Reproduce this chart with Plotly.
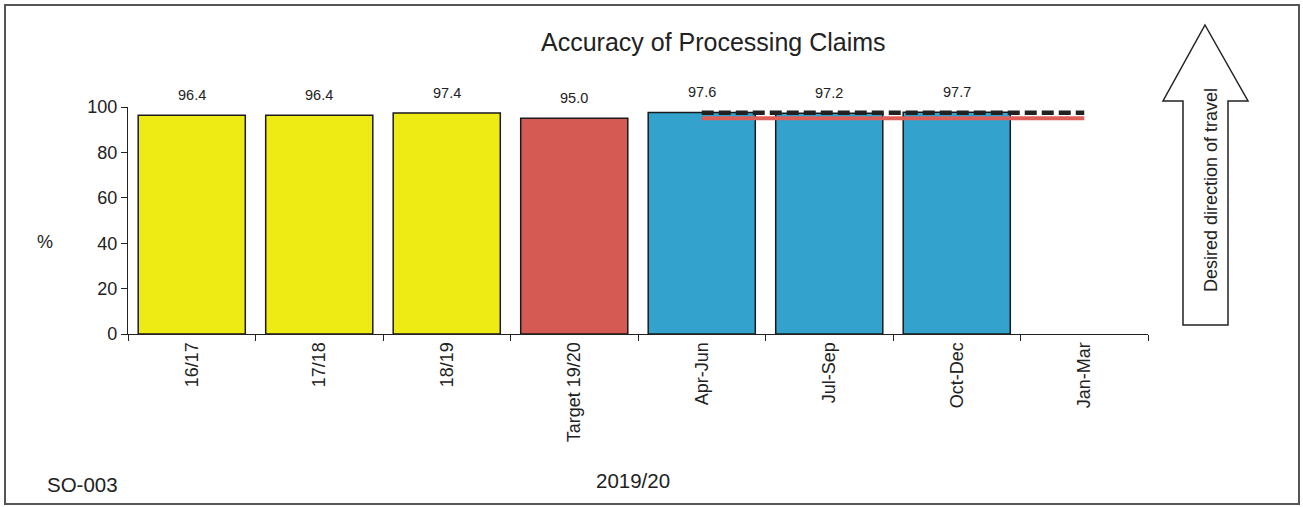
import plotly.graph_objects as go

categories = ["16/17", "17/18", "18/19", "Target 19/20", "Apr-Jun", "Jul-Sep", "Oct-Dec", "Jan-Mar"]
values = [96.4, 96.4, 97.4, 95.0, 97.6, 97.2, 97.7, None]
labels = ["96.4", "96.4", "97.4", "95.0", "97.6", "97.2", "97.7", ""]
colors = ["#EEEA14", "#EEEA14", "#EEEA14", "#D65A54", "#33A2CC", "#33A2CC", "#33A2CC", "#33A2CC"]

line_cats = ["Apr-Jun", "Jul-Sep", "Oct-Dec", "Jan-Mar"]
target_line = [95.0, 95.0, 95.0, 95.0]
average_line = [97.5, 97.5, 97.5, 97.5]

yticks = [0, 20, 40, 60, 80, 100]

W, H = 1303, 507
L, R, T, B = 128, 1148, 107, 334


def px(x):
    return (x - L) / (R - L)


def py(y):
    return (B - y) / (B - T)


FONT = "Liberation Sans, Arial, sans-serif"

fig = go.Figure()
fig.add_trace(go.Bar(
    x=categories, y=values,
    marker=dict(color=colors, line=dict(color="#1a1a1a", width=1.5)),
    showlegend=False, hoverinfo="x+y",
))
fig.add_trace(go.Scatter(
    x=line_cats, y=target_line, mode="lines",
    line=dict(color="#DE5E58", width=4), showlegend=False,
))
fig.add_trace(go.Scatter(
    x=line_cats, y=average_line, mode="lines",
    line=dict(color="#222222", width=4.5, dash="12px,5px"), showlegend=False,
))

annotations = []
for c, v, t in zip(categories, values, labels):
    if v is None:
        continue
    annotations.append(dict(x=c, y=v, text=t, showarrow=False, yshift=20,
                            xanchor="center", yanchor="middle",
                            font=dict(size=14.5, color="#222", family=FONT)))


def note(x, y, text, size, angle=0):
    return dict(x=px(x), y=py(y), xref="paper", yref="paper", text=text,
                showarrow=False, xanchor="center", yanchor="middle", textangle=angle,
                font=dict(size=size, color="#222", family=FONT))


annotations += [
    note(713, 42, "Accuracy of Processing Claims", 25),
    note(45, 242, "%", 18),
    note(82, 484, "SO-003", 20.5),
    note(633, 480, "2019/20", 20.5),
    note(1211, 190, "Desired direction of travel", 18, -90),
]

arrow_pts = [(1205, 25), (1248, 101), (1228, 101), (1228, 325), (1183, 325), (1183, 101), (1163, 101)]
path = "M " + " L ".join(f"{px(x):.5f},{py(y):.5f}" for x, y in arrow_pts) + " Z"

shapes = [
    dict(type="path", path=path, xref="paper", yref="paper",
         line=dict(color="#222", width=1.5), fillcolor="white", layer="below"),
    dict(type="rect", xref="paper", yref="paper", x0=px(5), x1=px(1299), y0=py(5), y1=py(504),
         line=dict(color="#555", width=2), fillcolor="rgba(0,0,0,0)"),
]

fig.update_layout(
    width=W, height=H,
    margin=dict(l=L, r=W - R, t=T, b=H - B, autoexpand=False),
    paper_bgcolor="white", plot_bgcolor="white",
    bargap=0.16,
    font=dict(family=FONT, size=15, color="#222"),
    annotations=annotations, shapes=shapes,
    xaxis=dict(
        categoryorder="array", categoryarray=categories,
        showline=True, linecolor="#222", linewidth=1.2,
        ticks="outside", tickson="boundaries", ticklen=6, tickcolor="#222",
        tickangle=-90, showgrid=False, tickfont=dict(size=18, family=FONT),
        fixedrange=True,
    ),
    yaxis=dict(
        range=[0, 100], tickvals=yticks, ticktext=[str(v) for v in yticks],
        showline=True, linecolor="#222", linewidth=1.2,
        ticks="outside", ticklen=6, tickcolor="#222", showgrid=False, zeroline=False,
        tickfont=dict(size=18, family=FONT),
    ),
)

fig.write_html("out.html", config={"displayModeBar": False},
               post_script="document.body.style.margin='0px';document.body.style.overflow='hidden';")
